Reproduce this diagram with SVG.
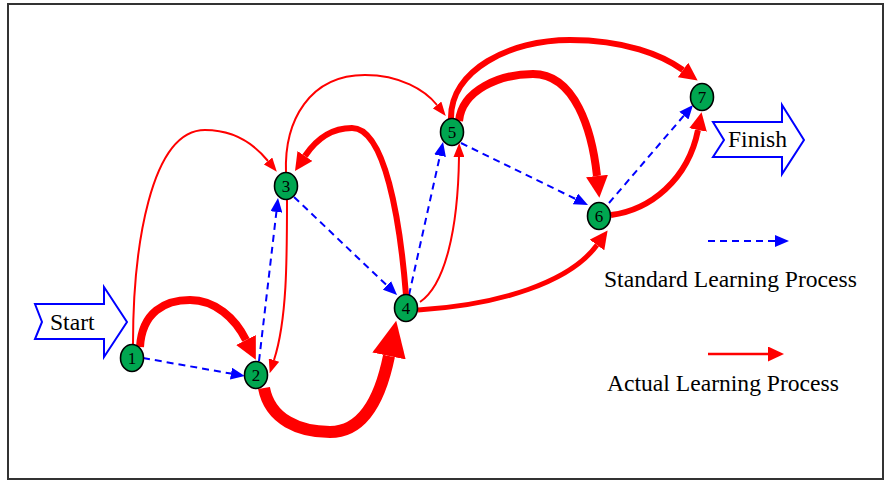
<svg xmlns="http://www.w3.org/2000/svg" width="885" height="481" viewBox="0 0 885 481">
<style>
.txt{font-family:"Liberation Serif","Times New Roman",serif;fill:#000}
.big{font-size:23.6px}
.num{font-size:17px;text-anchor:middle}
.node{fill:#00a650;stroke:#000;stroke-width:1.6}
.std{fill:none;stroke:#0000ff;stroke-width:2;stroke-dasharray:7,5}
.act{fill:none;stroke:#ff0000}
.bigarrow{fill:#fff;stroke:#0000ff;stroke-width:2}
</style>
<defs>
<marker id="mb" viewBox="0 0 14 12" refX="0" refY="6" markerWidth="14" markerHeight="12" markerUnits="userSpaceOnUse" orient="auto"><path d="M0,0 L14,6 L0,12 z" fill="#0000ff"/></marker>
<marker id="mr1" viewBox="0 0 14 11" refX="0" refY="5.5" markerWidth="14" markerHeight="11" markerUnits="userSpaceOnUse" orient="auto"><path d="M0,0 L14,5.5 L0,11 z" fill="#ff0000"/></marker>
<marker id="mr2" viewBox="0 0 18 18" refX="0" refY="9" markerWidth="18" markerHeight="18" markerUnits="userSpaceOnUse" orient="auto"><path d="M0,0 L18,9 L0,18 z" fill="#ff0000"/></marker>
<marker id="mr3" viewBox="0 0 22 22" refX="0" refY="11" markerWidth="22" markerHeight="22" markerUnits="userSpaceOnUse" orient="auto"><path d="M0,0 L22,11 L0,22 z" fill="#ff0000"/></marker>
<marker id="mr4" viewBox="0 0 36 34" refX="0" refY="17" markerWidth="36" markerHeight="34" markerUnits="userSpaceOnUse" orient="auto"><path d="M0,0 L36,17 L0,34 z" fill="#ff0000"/></marker>
<marker id="mrl" viewBox="0 0 16 15" refX="0" refY="7.5" markerWidth="16" markerHeight="15" markerUnits="userSpaceOnUse" orient="auto"><path d="M0,0 L16,7.5 L0,15 z" fill="#ff0000"/></marker>
</defs>
<rect x="8" y="4" width="875" height="475" fill="#fff" stroke="#333" stroke-width="2"/>

<g id="start">
<polygon class="bigarrow" points="35,304 104,304 104,287 127,322 104,357 104,339 35,339 42,322"/>
<text class="txt big" x="50" y="330">Start</text>
</g>
<g id="finish">
<polygon class="bigarrow" points="713,122 782,122 782,105 804,140 782,174 782,157 713,157 724,140"/>
<text class="txt big" x="728" y="147">Finish</text>
</g>

<g id="connectors">
<path class="std" d="M143,358 L231,373.6" marker-end="url(#mb)"/>
<path class="std" d="M259,361 L276.4,212" marker-end="url(#mb)"/>
<path class="std" d="M294,197 L386.9,285.4" marker-end="url(#mb)"/>
<path class="std" d="M409,295 L440,155.7" marker-end="url(#mb)"/>
<path class="std" d="M461,143 L575.4,198.9" marker-end="url(#mb)"/>
<path class="std" d="M609,203 L683.9,115.6" marker-end="url(#mb)"/>

<path class="act" stroke-width="2" d="M133,344 C133,250 150,130 205,130 C235,130 255,145 268,161" marker-end="url(#mr1)"/>
<path class="act" stroke-width="8" d="M140,347 C142,312 165,300 190,300 C215,300 235,318 246,340" marker-end="url(#mr3)"/>
<path class="act" stroke-width="2" d="M287,199 C287,260 287,320 274,360" marker-end="url(#mr1)"/>
<path class="act" stroke-width="2" d="M286,173 C284,120 310,75 365,75 C400,75 425,90 437,105" marker-end="url(#mr1)"/>
<path class="act" stroke-width="6" d="M406,295 C400,220 385,128 352,128 C330,128 315,141 305,156" marker-end="url(#mr2)"/>
<path class="act" stroke-width="12" d="M264,388 C270,420 300,432 330,432 C362,432 380,400 389,356" marker-end="url(#mr4)"/>
<path class="act" stroke-width="2" d="M420,302 C445,285 458,230 459,157" marker-end="url(#mr1)"/>
<path class="act" stroke-width="5" d="M418,310 C500,305 570,282 597,245" marker-end="url(#mr2)"/>
<path class="act" stroke-width="6" d="M451,119 C450,70 510,40 570,40 C625,40 662,55 683,70" marker-end="url(#mr2)"/>
<path class="act" stroke-width="8" d="M459,121 C462,90 500,74 533,74 C575,74 592,130 597,176" marker-end="url(#mr3)"/>
<path class="act" stroke-width="6" d="M611,215 C650,210 688,180 698,130" marker-end="url(#mr2)"/>
</g>

<g id="n1"><ellipse class="node" cx="132" cy="358" rx="11.5" ry="13.5"/><text class="txt num" x="132" y="364">1</text></g>
<g id="n2"><ellipse class="node" cx="256" cy="375" rx="11.5" ry="13.5"/><text class="txt num" x="256" y="381">2</text></g>
<g id="n3"><ellipse class="node" cx="286" cy="186" rx="11.5" ry="13.5"/><text class="txt num" x="286" y="192">3</text></g>
<g id="n4"><ellipse class="node" cx="406" cy="308" rx="11.5" ry="13.5"/><text class="txt num" x="406" y="314">4</text></g>
<g id="n5"><ellipse class="node" cx="452" cy="132" rx="11.5" ry="13.5"/><text class="txt num" x="452" y="138">5</text></g>
<g id="n6"><ellipse class="node" cx="599" cy="216" rx="11.5" ry="13.5"/><text class="txt num" x="599" y="222">6</text></g>
<g id="n7"><ellipse class="node" cx="702" cy="97" rx="11.5" ry="13.5"/><text class="txt num" x="702" y="103">7</text></g>

<g id="legend">
<path class="std" d="M708,241 L775,241" marker-end="url(#mb)"/>
<text class="txt big" x="604" y="287">Standard Learning Process</text>
<path class="act" stroke-width="2.5" d="M708,354 L768,354" marker-end="url(#mrl)"/>
<text class="txt big" x="607" y="391">Actual Learning Process</text>
</g>
</svg>
